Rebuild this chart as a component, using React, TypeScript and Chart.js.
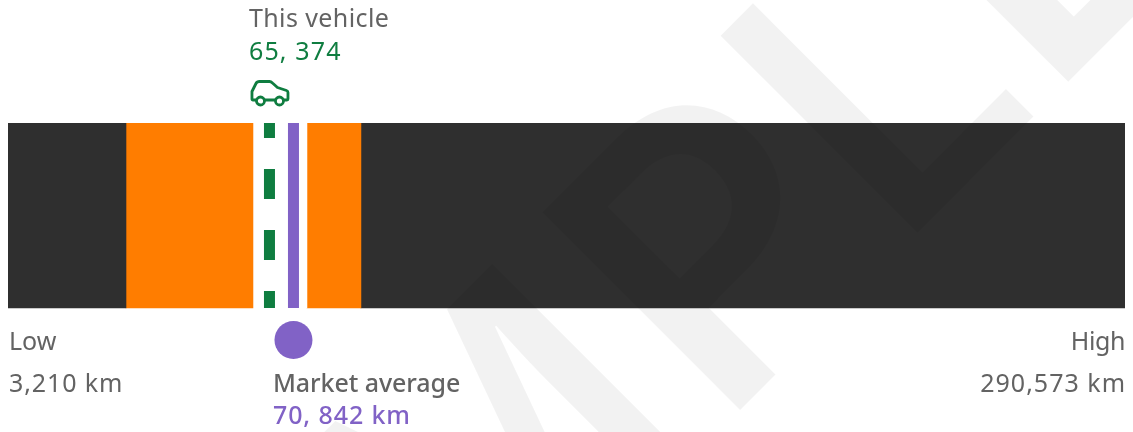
import React, { useEffect, useRef } from "react";
import { Chart, registerables } from "chart.js";

Chart.register(...registerables);

const rangeBands = ["Below range", "Lower band", "Around average", "Upper band", "Above range"];
const bandWidthsKm = [32680, 28930, 12300, 12300, 174090];
const bandColors = ["#2f2f2f", "#ff7d00", "#ffffff", "#ff7d00", "#2f2f2f"];
const thisVehicleKm = 65374;
const marketAverageKm = 70842;
const axisMinKm = 5800;
const axisMaxKm = 260300;
const lowLabel = "3,210 km";
const highLabel = "290,573 km";
const vehicleLabel = "65, 374";
const averageLabel = "70, 842 km";

const GREEN = "#0f7d40";
const PURPLE = "#8162c6";
const GREY = "#636363";
const FONT = '"Noto Sans"';

const overlay = {
  id: "overlay",
  afterDraw(chart: any) {
    const ctx = chart.ctx as CanvasRenderingContext2D;
    const x = chart.scales.x;
    const vx = x.getPixelForValue(thisVehicleKm);
    const ax = x.getPixelForValue(marketAverageKm);

    // watermark, letters placed by their ink edges along the rotated baseline
    ctx.save();
    ctx.translate(917.5, 232.5);
    ctx.rotate(-Math.PI / 4);
    ctx.fillStyle = "rgba(0,0,0,0.05)";
    ctx.textAlign = "left";
    ctx.textBaseline = "alphabetic";
    const OPEN = `600 390px "Open Sans"`;
    const INTER = `600 384px Inter`;
    const leftInk = (c: string, u: number, font: string) => {
      ctx.font = font;
      ctx.fillText(c, u + ctx.measureText(c).actualBoundingBoxLeft, 0);
    };
    const rightInk = (c: string, u: number, font: string) => {
      ctx.font = font;
      ctx.fillText(c, u - ctx.measureText(c).actualBoundingBoxRight, 0);
    };
    rightInk("A", -630, OPEN);
    rightInk("M", -322.7, OPEN);
    leftInk("P", -255, INTER);
    leftInk("L", 0, OPEN);
    leftInk("E", 209, INTER);
    ctx.restore();

    // texts
    const text = (s: string, px: number, py: number, color: string, weight = 400, align: CanvasTextAlign = "left", spacing = 0) => {
      ctx.save();
      ctx.font = `${weight} 25px ${FONT}`;
      ctx.fillStyle = color;
      ctx.textAlign = align;
      (ctx as any).letterSpacing = `${spacing}px`;
      ctx.textBaseline = "alphabetic";
      ctx.fillText(s, px, py);
      ctx.restore();
    };
    text("This vehicle", vx - 20.5, 27, GREY, 400, "left", 0.4);
    text(vehicleLabel, vx - 20.5, 60, GREEN, 400, "left", 1.15);
    text("Market average", ax - 20.5, 392, GREY, 500, "left", -0.07);
    text(averageLabel, ax - 20.5, 424, PURPLE, 500, "left", 0.9);
    text("Low", 9, 350, GREY);
    text(lowLabel, 9, 392, GREY, 400, "left", 0.9);
    text("High", 1125, 350, GREY, 400, "right", -0.4);
    text(highLabel, 1126, 392, GREY, 400, "right", 1);

    // car icon
    ctx.save();
    ctx.translate(vx - 19, 80);
    ctx.strokeStyle = GREEN;
    ctx.lineWidth = 2.8;
    ctx.lineJoin = "round";
    const body = new Path2D(
      "M6 20 H2.5 Q1.5 20 1.5 19 V11.5 L5.5 3.5 Q6.5 1.5 9 1.5 H19 Q20.5 1.5 22 3 L27 7.5 L36 10.5 Q37.5 11 37.5 12.5 V19 Q37.5 20 36.5 20 H33 M14 20 H25"
    );
    ctx.stroke(body);
    ctx.beginPath();
    ctx.arc(10, 21, 4, 0, Math.PI * 2);
    ctx.stroke();
    ctx.beginPath();
    ctx.arc(29, 21, 4, 0, Math.PI * 2);
    ctx.stroke();
    ctx.restore();
  },
};

export default function App() {
  const ref = useRef<HTMLCanvasElement>(null);
  useEffect(() => {
    const barSets = rangeBands.map((name, i) => ({
      type: "bar" as const,
      indexAxis: "y",
      label: name,
      stack: "bands",
      data: [{ x: bandWidthsKm[i], y: 0.5 }],
      backgroundColor: bandColors[i],
      borderWidth: 0,
      barThickness: 185,
      xAxisID: "x",
      yAxisID: "y",
      order: 5,
    }));
    const chart = new Chart(ref.current!, {
      type: "bar",
      data: {
        datasets: [
          ...barSets,
          {
            type: "scatter",
            indexAxis: "x",
            label: "This vehicle",
            showLine: true,
            data: [
              { x: thisVehicleKm, y: 1 },
              { x: thisVehicleKm, y: 0 },
            ],
            borderColor: GREEN,
            borderWidth: 11,
            borderDash: [30, 31],
            borderDashOffset: 15,
            borderCapStyle: "butt",
            pointRadius: 0,
            xAxisID: "x",
            yAxisID: "y",
            order: 2,
          },
          {
            type: "scatter",
            indexAxis: "x",
            label: "Market average",
            showLine: true,
            data: [
              { x: marketAverageKm, y: 1 },
              { x: marketAverageKm, y: 0 },
            ],
            borderColor: PURPLE,
            borderWidth: 11,
            borderCapStyle: "butt",
            pointRadius: 0,
            xAxisID: "x",
            yAxisID: "y",
            order: 2,
          },
          {
            type: "scatter",
            indexAxis: "x",
            label: "Market average marker",
            data: [{ x: marketAverageKm, y: -0.173 }],
            backgroundColor: PURPLE,
            borderWidth: 0,
            pointRadius: 19,
            clip: false,
            xAxisID: "x",
            yAxisID: "y",
            order: 1,
          },
        ] as any,
      },
      options: {
        indexAxis: "y",
        responsive: false,
        animation: false,
        layout: { autoPadding: false, padding: { left: 8, right: 8, top: 123, bottom: 72 } },
        plugins: { legend: { display: false }, tooltip: { enabled: false } },
        scales: {
          x: { type: "linear", stacked: true, min: axisMinKm, max: axisMaxKm, display: false },
          y: { type: "linear", offset: false, min: -0.2811, max: 1, display: false },
        },
      } as any,
      plugins: [overlay],
    });
    return () => chart.destroy();
  }, []);
  return (
    <div style={{ position: "absolute", left: 0, top: 0, width: 1133, height: 432, overflow: "hidden" }}>
      <canvas ref={ref} width={1133} height={432} style={{ display: "block" }} />
    </div>
  );
}
